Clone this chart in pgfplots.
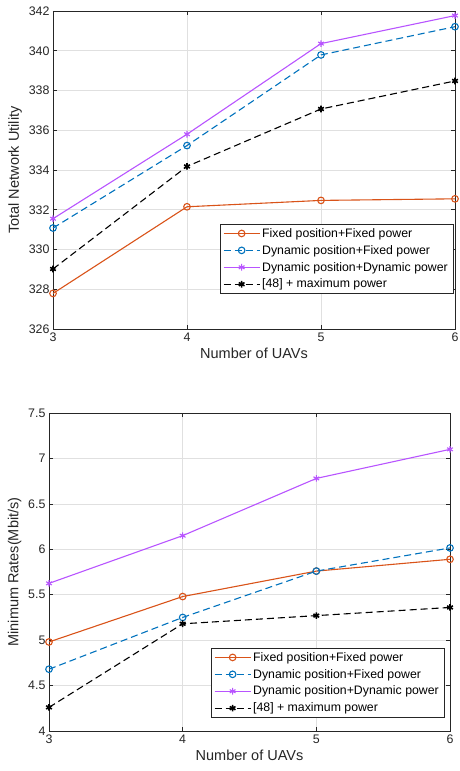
\documentclass[border=0pt]{standalone}
\usepackage{pgfplots}
\pgfplotsset{compat=1.18}
\usepackage{fontspec}
\setmainfont{Liberation Sans}
\definecolor{mOrange}{rgb}{0.85,0.325,0.098}
\definecolor{mBlue}{rgb}{0,0.447,0.741}
\definecolor{mPurple}{rgb}{0.72,0.33,1}
\definecolor{axgray}{rgb}{0.15,0.15,0.15}
\pgfplotsset{
 mystyle/.style={
  scale only axis, width=402pt, height=318pt,
  xmin=3,xmax=6, xtick={3,4,5,6},
  grid=major, major grid style={black!12, line width=0.7pt},
  axis line style={axgray, line width=0.7pt},
  tick style={axgray, line width=0.7pt},
  tick align=inside,
  clip=false,
  ticklabel style={font=\fontsize{12.4}{14}\selectfont, text=axgray},
  label style={font=\fontsize{14.5}{16}\selectfont, text=axgray},
  /pgf/number format/assume math mode=true,
  legend style={font=\fontsize{12.3}{13}\selectfont, draw=axgray, inner xsep=3pt, inner ysep=2pt, row sep=2.5pt},
  legend cell align=left,
  legend image code/.code={\draw[mark repeat=2,mark phase=2] plot coordinates {(0pt,0pt)(18pt,0pt)(36pt,0pt)};},
  xlabel={Number of UAVs},
 },
 s1/.style={mOrange, line width=1.1pt, mark=o, mark size=3.3pt, solid},
 s2/.style={mBlue, line width=1.1pt, dash pattern=on 7pt off 4pt, mark=o, mark size=3.3pt, mark options={solid}},
 s3/.style={mPurple, line width=1.1pt, mark=asterisk, mark size=3.3pt, solid},
 s4/.style={black, line width=1.1pt, dash pattern=on 7pt off 4pt, mark=asterisk, mark size=3.3pt, mark options={solid, line width=1.6pt}},
}
\begin{document}
\begin{tikzpicture}
\path[use as bounding box] (0,0) rectangle (459pt,-771pt);
\begin{axis}[mystyle, at={(53pt,-11pt)}, anchor=north west,
  ymin=326, ymax=342, ytick={326,328,...,342},
  ylabel={Total Network Utility},
  legend style={at={(0.995,0.330)}, anchor=north east}]
\addplot[s1] coordinates {(3,327.79)(4,332.15)(5,332.47)(6,332.55)};
\addlegendentry{Fixed position+Fixed power}
\addplot[s2] coordinates {(3,331.08)(4,335.23)(5,339.79)(6,341.21)};
\addlegendentry{Dynamic position+Fixed power}
\addplot[s3] coordinates {(3,331.55)(4,335.80)(5,340.36)(6,341.77)};
\addlegendentry{Dynamic position+Dynamic power}
\addplot[s4] coordinates {(3,329.02)(4,334.18)(5,337.07)(6,338.48)};
\addlegendentry{\relax[48] + maximum power}
\end{axis}
\begin{axis}[mystyle, at={(49pt,-413pt)}, anchor=north west, width=401pt,
  ymin=4, ymax=7.5, ytick={4,4.5,...,7.5},
  ylabel={Minimum Rates(Mbit/s)},
  legend style={at={(0.985,0.261)}, anchor=north east}]
\addplot[s1] coordinates {(3,4.98)(4,5.48)(5,5.76)(6,5.89)};
\addlegendentry{Fixed position+Fixed power}
\addplot[s2] coordinates {(3,4.68)(4,5.25)(5,5.76)(6,6.015)};
\addlegendentry{Dynamic position+Fixed power}
\addplot[s3] coordinates {(3,5.625)(4,6.15)(5,6.78)(6,7.10)};
\addlegendentry{Dynamic position+Dynamic power}
\addplot[s4] coordinates {(3,4.26)(4,5.18)(5,5.27)(6,5.36)};
\addlegendentry{\relax[48] + maximum power}
\end{axis}
\end{tikzpicture}
\end{document}
